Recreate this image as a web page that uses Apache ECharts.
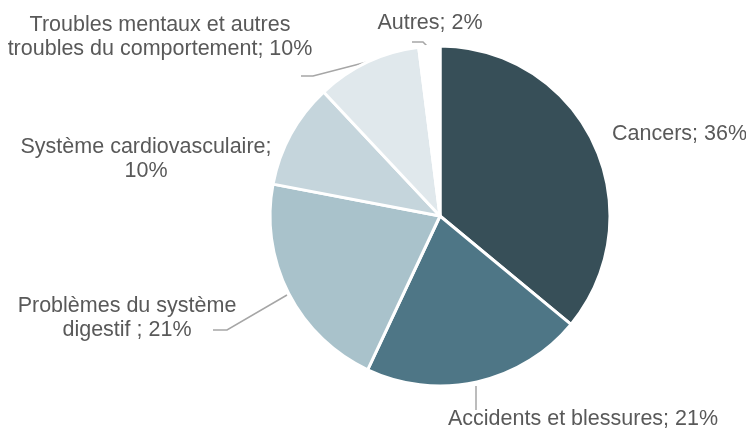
<!DOCTYPE html>
<html lang="fr" style="height: 100%">
<head>
  <meta charset="utf-8">
</head>
<body style="height: 100%; margin: 0; background: #fff">
  <div id="container" style="width: 746px; height: 428px"></div>
  <script type="text/javascript" src="https://fastly.jsdelivr.net/npm/echarts@6/dist/echarts.min.js"></script>
  <script type="text/javascript">
    // causes de décès, en %
    var categories = [
      'Cancers',
      'Accidents et blessures',
      'Problèmes du système\ndigestif',
      'Système cardiovasculaire',
      'Troubles mentaux et autres\ntroubles du comportement',
      'Autres'
    ];
    var values = [36, 21, 21, 10, 10, 2];
    var separators = ['; ', '; ', ' ; ', ';\n', '; ', '; '];
    var colors = ['#374f58', '#4e7686', '#a9c2cb', '#c5d5dc', '#e0e8ec', '#ffffff'];

    // label placement (x, y, align) and leader lines
    var labelPos = [
      { x: 612, y: 134, align: 'left' },
      { x: 448, y: 419, align: 'left', line: [[476, 386], [476, 398], [476, 410]] },
      { x: 127, y: 318, align: 'center', line: [[287, 295], [227, 330], [213, 330]] },
      { x: 146, y: 159, align: 'center' },
      { x: 160, y: 37, align: 'center', line: [[367, 62], [313, 76], [301, 76]] },
      { x: 430, y: 23, align: 'center', line: [[428, 47], [423, 42], [412, 42]] }
    ];

    var dom = document.getElementById('container');
    var myChart = echarts.init(dom, null, { renderer: 'canvas' });

    var data = categories.map(function (name, i) {
      return {
        name: name,
        value: values[i],
        itemStyle: { color: colors[i] },
        labelLine: { show: !!labelPos[i].line }
      };
    });

    var option = {
      animation: false,
      series: [{
        type: 'pie',
        center: [440, 216],
        radius: [0, 170],
        startAngle: 90,
        clockwise: true,
        data: data,
        itemStyle: {
          borderColor: '#ffffff',
          borderWidth: 3
        },
        label: {
          show: true,
          position: 'outside',
          overflow: 'none',
          fontFamily: 'Liberation Sans, Arial, sans-serif',
          fontSize: 21.5,
          lineHeight: 24,
          color: '#595959',
          align: 'center',
          formatter: function (p) {
            return p.name + separators[p.dataIndex] + p.value + '%';
          }
        },
        labelLine: {
          show: true,
          lineStyle: { color: '#a6a6a6', width: 1.5 }
        },
        labelLayout: function (params) {
          var pos = labelPos[params.dataIndex];
          var out = {
            x: pos.x,
            y: pos.y,
            align: pos.align,
            verticalAlign: 'middle'
          };
          if (pos.line) out.labelLinePoints = pos.line;
          return out;
        }
      }]
    };

    myChart.setOption(option);
    window.addEventListener('resize', myChart.resize);
  </script>
</body>
</html>
